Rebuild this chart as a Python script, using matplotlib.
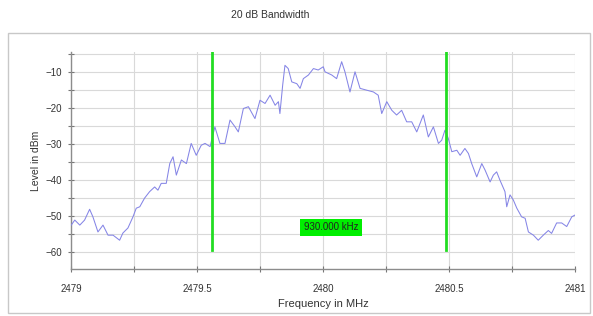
import numpy as np
import matplotlib
matplotlib.use('Agg')
import matplotlib.pyplot as plt
from matplotlib.patches import Rectangle

plt.rcParams['font.family'] = ['Liberation Sans', 'DejaVu Sans']

# trace (MHz, dBm)
freq = [2479.001, 2479.015, 2479.035, 2479.054, 2479.074, 2479.087, 2479.107, 2479.127,
        2479.147, 2479.167, 2479.193, 2479.206, 2479.226, 2479.246, 2479.259, 2479.273,
        2479.292, 2479.312, 2479.332, 2479.345, 2479.358, 2479.378, 2479.392, 2479.405,
        2479.418, 2479.438, 2479.458, 2479.477, 2479.497, 2479.517, 2479.532, 2479.552,
        2479.571, 2479.591, 2479.611, 2479.631, 2479.651, 2479.664, 2479.684, 2479.704,
        2479.730, 2479.750, 2479.770, 2479.790, 2479.810, 2479.823, 2479.829, 2479.840,
        2479.849, 2479.862, 2479.876, 2479.896, 2479.909, 2479.922, 2479.942, 2479.962,
        2479.981, 2480.001, 2480.008, 2480.035, 2480.054, 2480.074, 2480.087, 2480.107,
        2480.127, 2480.147, 2480.173, 2480.200, 2480.219, 2480.233, 2480.253, 2480.273,
        2480.292, 2480.312, 2480.332, 2480.352, 2480.372, 2480.398, 2480.418, 2480.438,
        2480.458, 2480.471, 2480.484, 2480.497, 2480.511, 2480.531, 2480.544, 2480.563,
        2480.577, 2480.590, 2480.610, 2480.630, 2480.643, 2480.663, 2480.676, 2480.689,
        2480.702, 2480.722, 2480.729, 2480.742, 2480.755, 2480.769, 2480.788, 2480.802,
        2480.815, 2480.835, 2480.854, 2480.874, 2480.894, 2480.907, 2480.927, 2480.947,
        2480.967, 2480.987, 2481.000]
level = [-52.5, -51.1, -52.5, -51.1, -48.1, -50.2, -54.4, -52.5,
         -55.3, -55.3, -56.7, -54.7, -53.3, -50.2, -47.8, -47.4,
         -45.0, -43.2, -41.9, -42.8, -40.9, -40.9, -35.4, -33.5,
         -38.6, -34.4, -35.4, -29.8, -33.1, -30.3, -29.8, -30.7,
         -25.2, -29.8, -29.8, -23.3, -25.2, -26.6, -20.1, -19.6,
         -22.9, -17.8, -18.7, -16.4, -19.2, -18.2, -21.5, -13.6,
         -8.1, -9.0, -12.7, -13.2, -14.5, -11.8, -10.8, -9.0,
         -9.4, -8.5, -9.9, -10.8, -11.8, -7.1, -9.9, -15.5,
         -9.9, -14.5, -15.0, -15.5, -16.4, -21.5, -18.2, -20.6,
         -21.9, -20.6, -23.8, -23.8, -26.6, -21.9, -28.0, -25.2,
         -29.8, -28.9, -26.1, -28.4, -32.1, -31.7, -33.1, -31.2,
         -32.6, -35.4, -39.1, -35.4, -37.2, -40.5, -38.6, -37.7,
         -40.0, -43.2, -47.4, -44.1, -45.5, -47.8, -50.2, -50.6,
         -54.4, -55.3, -56.7, -55.3, -54.0, -54.8, -51.9, -51.9,
         -52.9, -50.2, -49.7]

marker_freqs = [2479.56, 2480.488]
bw_label = '930.000 kHz'

x_ticks = [2479, 2479.5, 2480, 2480.5, 2481]
x_ticklabels = ['2479', '2479.5', '2480', '2480.5', '2481']
y_ticks = [-60, -50, -40, -30, -20, -10]

fig = plt.figure(figsize=(5.93, 3.16), dpi=100)
ax = fig.add_axes([0.1197, 0.1487, 0.850, 0.6867])

# outer frame
fig.patches.append(Rectangle((8 / 593, 1 - 313 / 316), 582 / 593, 280 / 316,
                             transform=fig.transFigure, fill=False,
                             edgecolor='#c8c8c8', linewidth=1.0))

ax.plot(freq, level, color='#8585e6', linewidth=0.75, zorder=3)

for f in marker_freqs:
    ax.plot([f, f], [-59.5, -4.5], color='#22dd22', linewidth=2.0, zorder=4)

ax.text(2480.032, -53.1, bw_label, fontsize=7, ha='center', va='center', zorder=5,
        color='#222222',
        bbox=dict(boxstyle='square,pad=0.35', facecolor='#00ee00', edgecolor='none'))

ax.set_xlim(2479, 2481)
ax.set_ylim(-64.7, -4.4)
ax.set_xticks(x_ticks)
ax.set_xticklabels(x_ticklabels)
ax.set_xticks(np.arange(2479.25, 2481, 0.5), minor=True)
ax.set_yticks(y_ticks)
ax.set_yticks(np.arange(-55, -4, 10), minor=True)

ax.grid(True, which='both', color='#d9d9d9', linewidth=0.8, zorder=0)
ax.set_axisbelow(True)

for side in ['top', 'right']:
    ax.spines[side].set_visible(False)
for side in ['left', 'bottom']:
    ax.spines[side].set_color('#8c8c8c')
    ax.spines[side].set_linewidth(1.0)

ax.tick_params(which='both', direction='inout', length=5, width=0.8, color='#777777',
               labelsize=7, labelcolor='#333333')
ax.tick_params(axis='x', which='both', pad=8)
ax.tick_params(axis='y', which='both', pad=4)
ax.tick_params(which='minor', length=4)

ax.set_xlabel('Frequency in MHz', fontsize=8, color='#333333', labelpad=4)
ax.set_ylabel('Level in dBm', fontsize=7.5, color='#333333', labelpad=3)

fig.text(270 / 593, 1 - 15 / 316, '20 dB Bandwidth', fontsize=7.5, ha='center',
         va='center', color='#333333')

fig.savefig('out.png', dpi=100)
